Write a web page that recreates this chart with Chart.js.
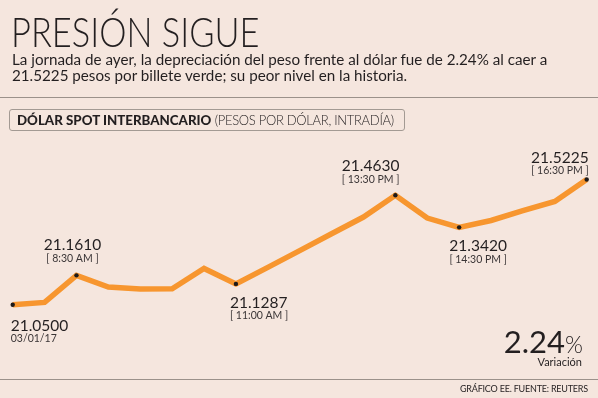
<!DOCTYPE html>
<html>
<head>
<meta charset="utf-8">
<script src="https://cdn.jsdelivr.net/npm/chart.js@4/dist/chart.umd.min.js"></script>
<style>
  html, body { margin: 0; padding: 0; }
  body { width: 598px; height: 398px; background: #f5e6de; position: relative; overflow: hidden; font-family: Lato, sans-serif; color: #231f20; }
  #title { position: absolute; left: 11px; top: 8px; font-size: 41px; font-weight: 300; line-height: 48px; transform: scaleX(0.84); transform-origin: left top; white-space: nowrap; }
  #sub { position: absolute; left: 12px; top: 52px; width: 600px; font-size: 15.5px; line-height: 15.5px; transform: scaleX(0.98); transform-origin: left top; }
  .rule { position: absolute; left: 0; width: 598px; height: 0; border-top: 1.5px solid #9b918a; }
  #box { position: absolute; left: 9px; top: 109px; width: 394px; height: 20px; border: 1px solid #a39a93; border-radius: 3px; font-size: 13px; line-height: 20px; white-space: nowrap; }
  #box b { font-weight: 900; margin-left: 7px; font-size: 13.3px; letter-spacing: 0px; }
  #box span { font-weight: 300; font-size: 13px; letter-spacing: -0.3px; }
  #chartWrap { position: absolute; left: 0; top: 0; width: 598px; height: 398px; }
  #pct { position: absolute; right: 15px; top: 326px; font-size: 31px; font-weight: 400; line-height: 30px; }
  #pct small { font-size: 23px; font-weight: 300; }
  #var { position: absolute; right: 16px; top: 355px; font-size: 11px; }
  #foot { position: absolute; right: 10px; top: 383px; font-size: 9px; letter-spacing: -0.2px; }
</style>
</head>
<body>
<div id="chartWrap"><canvas id="fxChart" width="598" height="398"></canvas></div>
<div id="title">PRESIÓN SIGUE</div>
<div id="sub">La jornada de ayer, la depreciación del peso frente al dólar fue de 2.24% al caer a<br>21.5225 pesos por billete verde; su peor nivel en la historia.</div>
<div class="rule" style="top:97px"></div>
<div id="box"><b>DÓLAR SPOT INTERBANCARIO</b> <span>(PESOS POR DÓLAR, INTRADÍA)</span></div>
<div id="pct">2.24<small>%</small></div>
<div id="var">Variación</div>
<div class="rule" style="top:379px"></div>
<div id="foot">GRÁFICO EE. FUENTE: REUTERS</div>
<script>
// Intraday quotes, every 30 minutes
var times = ['7:30', '8:00', '8:30', '9:00', '9:30', '10:00', '10:30', '11:00', '11:30', '12:00',
             '12:30', '13:00', '13:30', '14:00', '14:30', '15:00', '15:30', '16:00', '16:30'];
var quotes = [21.0500, 21.0587, 21.1610, 21.1168, 21.1092, 21.1104, 21.1870, 21.1287, 21.1910, 21.2545,
              21.3180, 21.3810, 21.4630, 21.3770, 21.3420, 21.3680, 21.4050, 21.4400, 21.5225];

// Highlighted points and their captions
var markIdx = [0, 2, 7, 12, 14, 18];
var markValue = ['21.0500', '21.1610', '21.1287', '21.4630', '21.3420', '21.5225'];
var markNote = ['03/01/17', '[ 8:30 AM ]', '[ 11:00 AM ]', '[ 13:30 PM ]', '[ 14:30 PM ]', '[ 16:30 PM ]'];

// where each caption goes relative to its point
var markPlace = [
    { dx: -2, dy: 26, align: 'left' },
    { dx: -4, dy: -25, align: 'center' },
    { dx: -6, dy: 24, align: 'left' },
    { dx: 4, dy: -24, align: 'right' },
    { dx: 19, dy: 24, align: 'center' },
    { dx: 2, dy: -17, align: 'right' }
];

var markLabels = {
    id: 'markLabels',
    afterDatasetsDraw: function (chart) {
        var ctx = chart.ctx;
        var meta = chart.getDatasetMeta(0);
        ctx.save();
        for (var i = 0; i < markIdx.length; i++) {
            var pt = meta.data[markIdx[i]];
            var p = markPlace[i];
            // dot
            ctx.fillStyle = '#1d1a1a';
            ctx.beginPath();
            ctx.arc(pt.x, pt.y, 2.2, 0, Math.PI * 2);
            ctx.fill();
            // value + note
            ctx.fillStyle = '#231f20';
            ctx.textAlign = p.align;
            ctx.textBaseline = 'alphabetic';
            ctx.font = '400 15.5px Lato';
            ctx.fillText(markValue[i], pt.x + p.dx, pt.y + p.dy);
            ctx.fillStyle = '#3a3536';
            ctx.font = '400 10.5px Lato';
            ctx.fillText(markNote[i], pt.x + p.dx, pt.y + p.dy + 11.5);
        }
        ctx.restore();
    }
};

var ctxFx = document.getElementById('fxChart').getContext('2d');
var fxChart = new Chart(ctxFx, {
    type: 'line',
    data: {
        labels: times,
        datasets: [{
            data: quotes,
            borderColor: '#f7962f',
            borderWidth: 5.5,
            pointRadius: 0,
            tension: 0,
            fill: false,
            borderJoinStyle: 'miter'
        }]
    },
    options: {
        responsive: false,
        animation: false,
        layout: {
            padding: { left: 12.7, right: 11.3, top: 159, bottom: 80 }
        },
        plugins: {
            legend: { display: false },
            tooltip: { enabled: false }
        },
        scales: {
            x: { display: false, offset: false },
            y: { display: false, min: 21.0, max: 21.6 }
        }
    },
    plugins: [markLabels]
});
</script>
</body>
</html>
